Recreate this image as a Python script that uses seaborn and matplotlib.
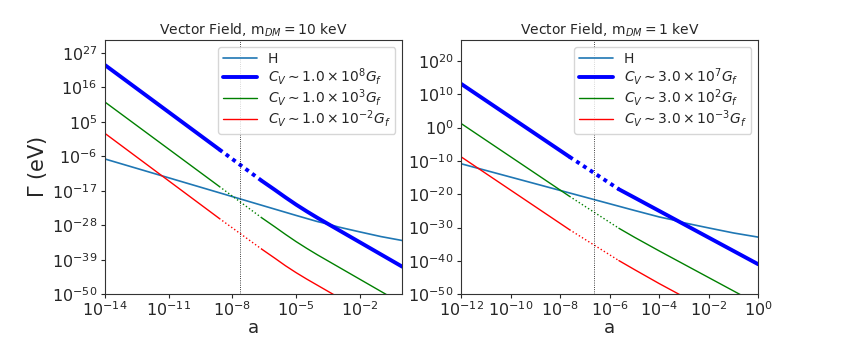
import matplotlib
matplotlib.use("Agg")
import matplotlib.pyplot as plt
import matplotlib.ticker as mticker
import numpy as np
import seaborn as sns

# log10 values
# left panel: m_DM = 10 keV
left_a_nr = -7.62
left_H_a = [-14, -12, -10, -8, -6, -5, -4, -3.5, -3, -2, -1, 0]
left_H = [-6.85, -10.85, -14.85, -18.85, -22.85, -24.85, -26.8, -27.6, -28.55, -30.1, -31.6, -32.85]
left_G_a = [-14, -8.62, -6.62, -6, -5.5, -5, -4.5, -4, -3, -2, -1, 0]
left_blue = [23.1, -3.8, -13.8, -16.7, -19.1, -21.4, -23.55, -25.6, -29.5, -33.4, -37.3, -41.2]
left_green = [11.3, -15.6, -25.6, -28.5, -30.9, -33.2, -35.35, -37.4, -41.3, -45.2, -49.1, -53.0]
left_red = [1.3, -25.8, -35.6, -38.5, -40.9, -43.1, -45.15, -47.1, -51.0, -55.0, -59.0, -63.0]
left_labels = [r"$C_V\sim 1.0\times 10^{8}G_f$", r"$C_V\sim 1.0\times 10^{3}G_f$",
               r"$C_V\sim 1.0\times 10^{-2}G_f$"]

# right panel: m_DM = 1 keV
right_a_nr = -6.63
right_H_a = [-12, -10, -8, -6, -5, -4, -3.5, -3, -2, -1, 0]
right_H = [-10.85, -14.85, -18.85, -22.85, -24.85, -26.8, -27.6, -28.55, -30.1, -31.6, -32.85]
right_G_a = [-12, -7.63, -5.63, -5, -4, -3, -2, -1, 0]
right_blue = [13.1, -8.75, -18.5, -21.0, -25.0, -29.0, -33.0, -37.0, -41.0]
right_green = [1.2, -20.6, -30.2, -32.9, -37.0, -41.0, -45.0, -49.0, -53.0]
right_red = [-8.8, -30.6, -39.9, -42.6, -46.8, -50.8, -54.8, -58.8, -62.8]
right_labels = [r"$C_V\sim 3.0\times 10^{7}G_f$", r"$C_V\sim 3.0\times 10^{2}G_f$",
                r"$C_V\sim 3.0\times 10^{-3}G_f$"]

sns.set_style("ticks")
plt.rcParams["font.family"] = ["DejaVu Sans"]

W, H = 843, 337
fig = plt.figure(figsize=(W / 100, H / 100), dpi=100)


def panel(rect, title, a_nr, H_a, Hv, G_a, curves, labels, xlim, ylim, xt, yt, ylabel):
    ax = fig.add_axes(rect)
    ax.set_xscale("log")
    ax.set_yscale("log")
    sns.lineplot(x=10.0 ** np.array(H_a), y=10.0 ** np.array(Hv), ax=ax, color="C0",
                 lw=1.2, label="H", estimator=None, sort=False)
    ga = np.array(G_a)
    for vals, col, lw, lab in zip(curves, ["b", "g", "r"], [2.8, 1.0, 1.0], labels):
        v = np.array(vals)
        dots = (0, (1, 1.1)) if lw > 2 else ":"
        sns.lineplot(x=10.0 ** ga[:2], y=10.0 ** v[:2], ax=ax, color=col, lw=lw,
                     label=lab, estimator=None, sort=False)
        sns.lineplot(x=10.0 ** ga[1:3], y=10.0 ** v[1:3], ax=ax, color=col, lw=lw,
                     ls=dots, label="_nolegend_", estimator=None, sort=False)
        sns.lineplot(x=10.0 ** ga[2:], y=10.0 ** v[2:], ax=ax, color=col, lw=lw,
                     label="_nolegend_", estimator=None, sort=False)
    ax.axvline(10.0 ** a_nr, color="k", ls=":", lw=0.6)
    ax.set_xlim(10.0 ** xlim[0], 10.0 ** xlim[1])
    ax.set_ylim(10.0 ** ylim[0], 10.0 ** ylim[1])
    ax.set_xticks([10.0 ** t for t in xt])
    ax.set_yticks([10.0 ** t for t in yt])
    ax.xaxis.set_minor_locator(mticker.NullLocator())
    ax.yaxis.set_minor_locator(mticker.NullLocator())
    ax.tick_params(labelsize=11.5, direction="out", length=3, width=0.8, pad=2.5)
    ax.tick_params(axis="x", pad=1.5)
    ax.set_title(title, fontsize=10, pad=4)
    ax.set_xlabel("a", fontsize=13, labelpad=0)
    if ylabel:
        ax.set_ylabel(ylabel, fontsize=15, labelpad=2)
    for s in ax.spines.values():
        s.set_color("0.2")
    ax.legend(loc="upper right", fontsize=10, handlelength=2.4, labelspacing=0.0,
              borderpad=0.35, handletextpad=0.8, framealpha=0.8)
    return ax


bot = 1 - 294.3 / H
top = 1 - 40.3 / H
panel([105 / W, bot, (402.3 - 105) / W, top - bot], r"Vector Field, m$_{DM} = 10$ keV",
      left_a_nr, left_H_a, left_H, left_G_a, [left_blue, left_green, left_red], left_labels,
      (-14, 0), (-50, 31), [-14, -11, -8, -5, -2], [-50, -39, -28, -17, -6, 5, 16, 27],
      r"$\Gamma$ (eV)")
panel([461.3 / W, bot, (758.3 - 461.3) / W, top - bot], r"Vector Field, m$_{DM} = 1$ keV",
      right_a_nr, right_H_a, right_H, right_G_a, [right_blue, right_green, right_red], right_labels,
      (-12, 0), (-50, 26.2), [-12, -10, -8, -6, -4, -2, 0], [-50, -40, -30, -20, -10, 0, 10, 20],
      None)

fig.savefig("out.png", dpi=100)
